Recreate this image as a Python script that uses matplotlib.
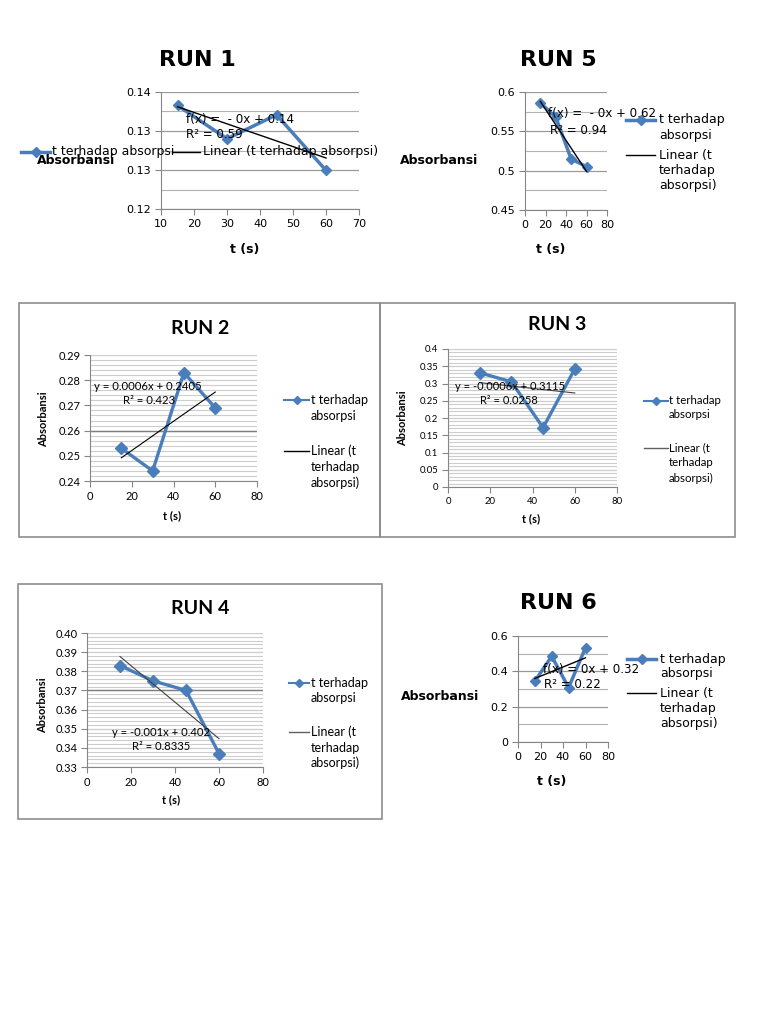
import numpy as np
import matplotlib
matplotlib.use("Agg")
import matplotlib.pyplot as plt
from matplotlib.patches import Rectangle
from matplotlib.lines import Line2D

# data
t = [15, 30, 45, 60]
run1 = [0.1377, 0.1320, 0.1361, 0.1266]
run2 = [0.253, 0.244, 0.283, 0.269]
run3 = [0.331, 0.305, 0.172, 0.342]
run4 = [0.383, 0.375, 0.370, 0.337]
run5 = [0.586, 0.568, 0.515, 0.505]
run6 = [0.345, 0.485, 0.308, 0.534]

eq1 = ["f(x) =  - 0x + 0.14", "R² = 0.59"]
eq5 = ["f(x) =  - 0x + 0.62", "R² = 0.94"]
eq6 = ["f(x) = 0x + 0.32", "R² = 0.22"]
eq2 = ["y = 0.0006x + 0.2405", "R² = 0.423"]
eq3 = ["y = -0.0006x + 0.3115", "R² = 0.0258"]
eq4 = ["y = -0.001x + 0.402", "R² = 0.8335"]

lbl_series = "t terhadap absorpsi"
lbl_linear = "Linear (t terhadap absorpsi)"
lbl_series_w = "t terhadap\nabsorpsi"
lbl_linear_w = "Linear (t\nterhadap\nabsorpsi)"

# the darker gridline in the framed charts
dark2 = 0.26
dark4 = 0.37

BLUE = "#4a7ebb"
W, H = 768, 1024
DJ = "DejaVu Sans"
LT = "Lato"

fig = plt.figure(figsize=(W / 100, H / 100), dpi=100)


def fx(x):
    return x / W


def fy(y):
    return 1 - y / H


def rect(l, t_, r, b):
    return [l / W, 1 - b / H, (r - l) / W, (b - t_) / H]


def draw(ax, y, xlim, xticks, ylim, yticks, ygrid, fmt, font, fs, lw, ms, tlw, tcol,
         major_col="#9a9a9a", minor_col="#b3b3b3"):
    ax.plot(t, y, color=BLUE, lw=lw, marker="D", ms=ms, zorder=3)
    k, b = np.polyfit(t, y, 1)
    xs = np.array([t[0], t[-1]])
    ax.plot(xs, k * xs + b, color=tcol, lw=tlw, zorder=4)
    ax.set_xlim(*xlim)
    ax.set_ylim(*ylim)
    ax.set_xticks(xticks)
    ax.set_yticks(yticks)
    ax.set_yticks(ygrid, minor=True)
    ax.set_yticklabels([fmt % v for v in yticks], family=font, fontsize=fs)
    ax.set_xticklabels([str(v) for v in xticks], family=font, fontsize=fs)
    ax.grid(axis="y", which="minor", color=minor_col, lw=0.8)
    ax.grid(axis="y", which="major", color=major_col, lw=0.9)
    ax.tick_params(which="minor", length=0)
    ax.tick_params(which="major", length=4, color="#868686", pad=3)
    for s in ("top", "right"):
        ax.spines[s].set_visible(False)
    for s in ("left", "bottom"):
        ax.spines[s].set_color("#868686")
    ax.set_facecolor("none")
    ax.set_axisbelow(True)


def eqtext(lines, pos, font, fs):
    for (x, y_), s in zip(pos, lines):
        fig.text(fx(x), fy(y_), s, family=font, fontsize=fs, va="center", ha="left", zorder=10)


def key(x0, x1, y, tx, label, font, fs, step, series, lw, ms):
    # one legend entry: a key line and its (possibly wrapped) label
    xs = [fx(x0), fx((x0 + x1) / 2), fx(x1)]
    ys = [fy(y)] * 3
    if series:
        ln = Line2D(xs, ys, color=BLUE, lw=lw, marker="D", ms=ms, markevery=[1],
                    transform=fig.transFigure)
    else:
        ln = Line2D(xs, ys, color=lw[1], lw=lw[0], transform=fig.transFigure)
    fig.add_artist(ln)
    for i, s in enumerate(label.split("\n")):
        fig.text(fx(tx), fy(y + i * step), s, family=font, fontsize=fs, ha="left", va="center")


# ---------------- RUN 1 ----------------
ax1 = fig.add_axes(rect(161, 92, 359, 209))
draw(ax1, run1, (10, 70), list(range(10, 71, 10)), (0.12, 0.14), np.linspace(0.12, 0.14, 4),
     np.linspace(0.12, 0.14, 7), "%.2f", DJ, 8, 2.5, 5, 1.0, "black")
fig.text(fx(197), fy(60), "RUN 1", family=DJ, fontsize=16, weight="bold", ha="center", va="center")
fig.text(fx(245), fy(249), "t (s)", family=DJ, fontsize=9, weight="bold", ha="center", va="center")
fig.text(fx(37), fy(160), "Absorbansi", family=DJ, fontsize=9, weight="bold", ha="left", va="center")
eqtext(eq1, [(186, 120), (186, 135)], DJ, 8.6)
key(21, 50, 152, 52, lbl_series, DJ, 9, 0, True, 2.5, 5)
key(172, 200, 152, 203, lbl_linear, DJ, 9, 0, False, (1.0, "black"), 0)

# ---------------- RUN 5 ----------------
ax5 = fig.add_axes(rect(525, 92, 607, 210))
draw(ax5, run5, (0, 80), list(range(0, 81, 20)), (0.45, 0.6), [0.45, 0.5, 0.55, 0.6],
     np.arange(0.45, 0.6001, 0.025), "%g", DJ, 8, 2.5, 5, 1.0, "black")
fig.text(fx(558), fy(60), "RUN 5", family=DJ, fontsize=16, weight="bold", ha="center", va="center")
fig.text(fx(551), fy(249), "t (s)", family=DJ, fontsize=9, weight="bold", ha="center", va="center")
fig.text(fx(400), fy(160), "Absorbansi", family=DJ, fontsize=9, weight="bold", ha="left", va="center")
eqtext(eq5, [(548, 113), (550, 131)], DJ, 8.6)
key(626, 655, 120, 659, lbl_series_w, DJ, 9, 15.5, True, 2.5, 5)
key(626, 655, 155, 659, lbl_linear_w, DJ, 9, 15.5, False, (1.0, "black"), 0)

# ---------------- RUN 6 ----------------
ax6 = fig.add_axes(rect(518, 636, 608, 742))
draw(ax6, run6, (0, 80), list(range(0, 81, 20)), (0, 0.6), [0, 0.2, 0.4, 0.6],
     np.arange(0, 0.6001, 0.1), "%g", DJ, 8, 2.5, 5, 1.0, "black")
fig.text(fx(558), fy(603), "RUN 6", family=DJ, fontsize=16, weight="bold", ha="center", va="center")
fig.text(fx(552), fy(782), "t (s)", family=DJ, fontsize=9, weight="bold", ha="center", va="center")
fig.text(fx(401), fy(697), "Absorbansi", family=DJ, fontsize=9, weight="bold", ha="left", va="center")
eqtext(eq6, [(543, 669), (544, 684)], DJ, 8.6)
key(627, 656, 659, 660, lbl_series_w, DJ, 9, 15, True, 2.5, 5)
key(627, 656, 693, 660, lbl_linear_w, DJ, 9, 15.5, False, (1.0, "black"), 0)

# ---------------- framed charts (RUN 2, 3, 4) ----------------
for l, tp, r, b in [(19, 303, 380, 537), (380, 303, 735, 537), (18, 584, 382, 819)]:
    fig.add_artist(Rectangle((fx(l), fy(b)), (r - l) / W, (b - tp) / H, transform=fig.transFigure,
                             fill=False, ec="#8c8c8c", lw=1.2))

GRID_L = "#cdcdcd"

# RUN 2
ax2 = fig.add_axes(rect(90, 355, 257, 481))
draw(ax2, run2, (0, 80), list(range(0, 81, 20)), (0.24, 0.29), np.arange(0.24, 0.2901, 0.01),
     np.arange(0.24, 0.2901, 0.002), "%.2f", LT, 8, 2.4, 6, 0.8, "black", GRID_L, GRID_L)
ax2.axhline(dark2, color="#7f7f7f", lw=1.0, zorder=1)
fig.text(fx(200), fy(328), "RUN 2", family=LT, fontsize=14, weight="bold", ha="center", va="center")
fig.text(fx(172), fy(516), "t (s)", family=LT, fontsize=8, weight="bold", ha="center", va="center")
fig.text(fx(44), fy(419), "Absorbansi", family=LT, fontsize=8, weight="bold", rotation=90,
         ha="center", va="center")
eqtext(eq2, [(94, 386), (123, 400)], LT, 8.2)
key(284, 309, 400, 311, lbl_series_w, LT, 9, 15.5, True, 1.5, 4)
key(284, 309, 451, 311, lbl_linear_w, LT, 9, 16, False, (1.0, "black"), 0)

# RUN 3
ax3 = fig.add_axes(rect(448, 349, 617, 487))
draw(ax3, run3, (0, 80), list(range(0, 81, 20)), (0, 0.4), np.arange(0, 0.4001, 0.05),
     np.arange(0, 0.4001, 0.01), "%g", LT, 6.8, 2.4, 6, 0.8, "#404040", GRID_L, GRID_L)
fig.text(fx(557), fy(324), "RUN 3", family=LT, fontsize=14, weight="bold", ha="center", va="center")
fig.text(fx(531), fy(519), "t (s)", family=LT, fontsize=8, weight="bold", ha="center", va="center")
fig.text(fx(403), fy(418), "Absorbansi", family=LT, fontsize=8, weight="bold", rotation=90,
         ha="center", va="center")
eqtext(eq3, [(455, 387), (480, 400)], LT, 8.0)
key(644, 668, 401, 669, lbl_series_w, LT, 8.3, 13.5, True, 1.5, 4)
key(644, 668, 448, 669, lbl_linear_w, LT, 8.3, 15, False, (1.0, "#606060"), 0)

# RUN 4
ax4 = fig.add_axes(rect(87, 633, 263, 767))
draw(ax4, run4, (0, 80), list(range(0, 81, 20)), (0.33, 0.4), np.arange(0.33, 0.4001, 0.01),
     np.arange(0.33, 0.4001, 0.002), "%.2f", LT, 8, 2.4, 6, 0.8, "#404040", GRID_L, GRID_L)
ax4.axhline(dark4, color="#7f7f7f", lw=1.0, zorder=1)
fig.text(fx(200), fy(608), "RUN 4", family=LT, fontsize=14, weight="bold", ha="center", va="center")
fig.text(fx(171), fy(800), "t (s)", family=LT, fontsize=8, weight="bold", ha="center", va="center")
fig.text(fx(43), fy(705), "Absorbansi", family=LT, fontsize=8, weight="bold", rotation=90,
         ha="center", va="center")
eqtext(eq4, [(112, 733), (132, 746)], LT, 8.1)
key(289, 309, 683, 311, lbl_series_w, LT, 9, 15.5, True, 1.5, 4)
key(289, 309, 732, 311, lbl_linear_w, LT, 9, 15.5, False, (1.0, "#606060"), 0)

fig.savefig("out.png", dpi=100)
